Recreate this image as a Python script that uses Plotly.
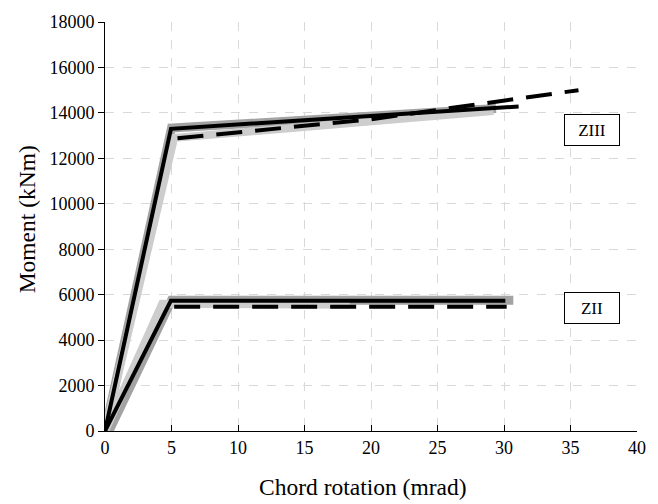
import plotly.graph_objects as go

# ZIII series (chord rotation mrad, moment kNm)
ziii_mgray_x = [0, 5.0, 29.4]
ziii_mgray_y = [0, 13330, 14190]
ziii_lgray_x = [0, 5.2, 29.2]
ziii_lgray_y = [0, 12900, 14080]
ziii_black_x = [0, 4.96, 31.1]
ziii_black_y = [0, 13300, 14280]
ziii_dash_x = [5.45, 20.0, 35.6]
ziii_dash_y = [12880, 13720, 15000]

# ZII series
zii_mgray_x = [0.3, 5.0, 30.7]
zii_mgray_y = [0, 5750, 5750]
zii_lgray_x = [0, 4.3, 18.4]
zii_lgray_y = [0, 5600, 5560]
zii_black_x = [0, 4.95, 30.1]
zii_black_y = [0, 5730, 5730]
zii_dash_x = [5.2, 30.2]
zii_dash_y = [5470, 5470]

labels = ["ZIII", "ZII"]
label_x = [36.6, 36.6]
label_y = [13230, 5430]

MG = "#a3a3a3"
LG = "#cdcdcd"
FONT = "Liberation Serif"

fig = go.Figure()
def add(x, y, color, width, dash="solid"):
    fig.add_trace(go.Scatter(x=x, y=y, mode="lines", showlegend=False,
                             line=dict(color=color, width=width, dash=dash),
                             hoverinfo="skip"))

add(ziii_mgray_x, ziii_mgray_y, MG, 9)
add(zii_mgray_x, zii_mgray_y, MG, 9)
add(ziii_lgray_x, ziii_lgray_y, LG, 8)
add(zii_lgray_x, zii_lgray_y, LG, 8)
add(ziii_black_x, ziii_black_y, "black", 4)
add(zii_black_x, zii_black_y, "black", 4)
add(ziii_dash_x, ziii_dash_y, "black", 4, "26px,13px")
add(zii_dash_x, zii_dash_y, "black", 4, "26px,13px")

for t, x, y in zip(labels, label_x, label_y):
    fig.add_annotation(x=x, y=y, text=t, showarrow=False,
                       font=dict(family=FONT, size=17, color="black"),
                       bordercolor="black", borderwidth=1, borderpad=1,
                       width=52, height=28, bgcolor="white")

# axis titles as annotations for precise placement
fig.add_annotation(xref="paper", yref="paper", x=0.485, y=-0.138,
                   xanchor="center", yanchor="middle",
                   text="Chord rotation (mrad)", showarrow=False,
                   font=dict(family=FONT, size=23.5, color="black"))
fig.add_annotation(xref="paper", yref="paper", x=-0.147, y=0.517,
                   xanchor="center", yanchor="middle",
                   text="Moment (kNm)", showarrow=False, textangle=-90,
                   font=dict(family=FONT, size=23.5, color="black"))

common = dict(showgrid=True, gridcolor="#d9d9d9", griddash="dash", gridwidth=1,
              showline=True, linecolor="black", linewidth=1,
              tickcolor="black", zeroline=False, tickformat="d",
              tickfont=dict(family=FONT, size=18, color="black"))

fig.update_xaxes(range=[0, 40], dtick=5, tick0=0, ticks="inside", ticklen=6, **common)
fig.update_yaxes(range=[0, 18000], dtick=2000, tick0=0, ticks="outside", ticklen=6, **common)

fig.update_layout(width=658, height=504, margin=dict(l=105, r=15, t=17, b=73),
                  plot_bgcolor="white", paper_bgcolor="white")

fig.write_html("out.html")
